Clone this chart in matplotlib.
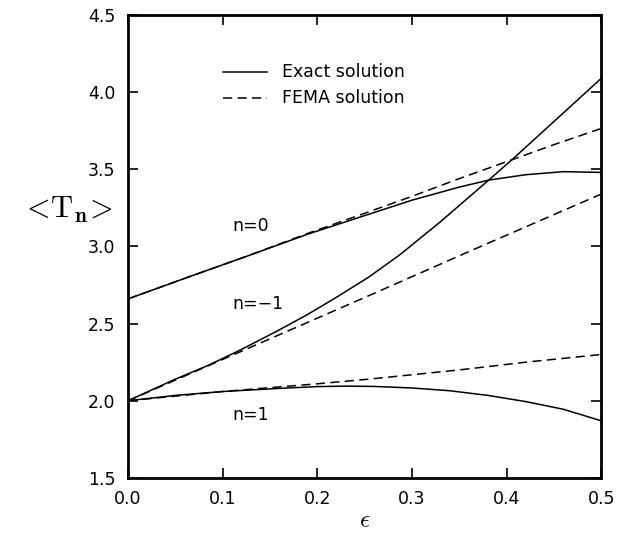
"""Average <T_n> versus epsilon: exact and FEMA solutions."""

import matplotlib
matplotlib.use("Agg")
import matplotlib.pyplot as plt

# exact solution
eps_exact = [0.0, 0.063, 0.127, 0.19, 0.25, 0.30, 0.35, 0.381, 0.42, 0.46, 0.50]
exact_n0 = [2.66, 2.80, 2.94, 3.08, 3.20, 3.30, 3.385, 3.43, 3.465, 3.485, 3.48]

eps_m1 = [0.0, 0.05, 0.085, 0.119, 0.157, 0.19, 0.22, 0.254, 0.288, 0.33, 0.381, 0.407, 0.45, 0.50]
exact_m1 = [2.0, 2.14, 2.23, 2.33, 2.45, 2.56, 2.67, 2.80, 2.95, 3.16, 3.43, 3.57, 3.81, 4.09]

eps_p1 = [0.0, 0.05, 0.10, 0.159, 0.20, 0.23, 0.26, 0.30, 0.34, 0.38, 0.42, 0.46, 0.50]
exact_p1 = [2.0, 2.035, 2.06, 2.08, 2.092, 2.095, 2.093, 2.083, 2.065, 2.035, 1.995, 1.945, 1.87]

# FEMA solution
eps_fema = [0.0, 0.063, 0.127, 0.19, 0.25, 0.30, 0.35, 0.407, 0.45, 0.50]
fema_n0 = [2.66, 2.80, 2.94, 3.085, 3.215, 3.325, 3.44, 3.565, 3.66, 3.765]

eps_fema_m1 = [0.0, 0.127, 0.254, 0.365, 0.50]
fema_m1 = [2.0, 2.34, 2.68, 2.98, 3.34]

eps_fema_p1 = [0.0, 0.10, 0.20, 0.254, 0.35, 0.42, 0.50]
fema_p1 = [2.0, 2.06, 2.11, 2.14, 2.20, 2.25, 2.30]

curve_labels = ["n=0", "n=\u22121", "n=1"]
curve_label_pos = [(0.110, 3.13), (0.110, 2.63), (0.110, 1.91)]

plt.rcParams["font.family"] = ["DejaVu Sans"]
plt.rcParams["mathtext.fontset"] = "cm"

fig = plt.figure(figsize=(6.18, 5.37), dpi=100)
ax = fig.add_axes([0.207, 0.110, 0.766, 0.862])

dash = (0, (6, 3.5))
ax.plot(eps_exact, exact_n0, color="black", lw=1.1)
ax.plot(eps_m1, exact_m1, color="black", lw=1.1)
ax.plot(eps_p1, exact_p1, color="black", lw=1.1)
ax.plot(eps_fema, fema_n0, color="black", lw=1.1, linestyle=dash)
ax.plot(eps_fema_m1, fema_m1, color="black", lw=1.1, linestyle=dash)
ax.plot(eps_fema_p1, fema_p1, color="black", lw=1.1, linestyle=dash)

# hand-drawn style legend
ax.plot([0.100, 0.147], [4.13, 4.13], color="black", lw=1.1)
ax.plot([0.100, 0.147], [3.96, 3.96], color="black", lw=1.1, linestyle=dash)
ax.text(0.163, 4.13, "Exact solution", fontsize=12.5, va="center")
ax.text(0.163, 3.96, "FEMA solution", fontsize=12.5, va="center")

for lab, (x, y) in zip(curve_labels, curve_label_pos):
    ax.text(x, y, lab, fontsize=12.5, va="center")

ax.set_xlim(0.0, 0.5)
ax.set_ylim(1.5, 4.5)
ax.set_xticks([0.0, 0.1, 0.2, 0.3, 0.4, 0.5])
ax.set_yticks([1.5, 2.0, 2.5, 3.0, 3.5, 4.0, 4.5])
ax.xaxis.set_major_formatter(matplotlib.ticker.FormatStrFormatter("%.1f"))
ax.yaxis.set_major_formatter(matplotlib.ticker.FormatStrFormatter("%.1f"))
ax.tick_params(direction="in", length=7, width=1.2, top=True, right=True,
               labelsize=12.5, pad=9)
for side in ax.spines.values():
    side.set_linewidth(2.0)

ax.set_xlabel(r"$\epsilon$", fontsize=18, labelpad=0)
ax.set_ylabel(r"$<\!\mathrm{T}_{\mathbf{n}}\!>$", fontsize=22, rotation=0,
              labelpad=8, va="center")
ax.yaxis.set_label_coords(-0.13, 0.58)

fig.savefig("out.png", dpi=100)
